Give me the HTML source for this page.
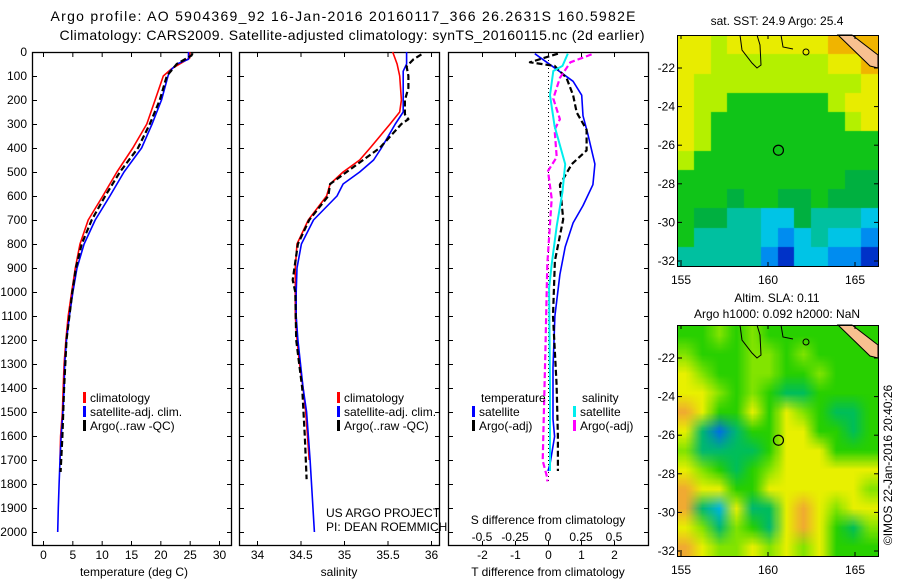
<!DOCTYPE html>
<html><head><meta charset="utf-8">
<style>
html,body{margin:0;padding:0;background:#fff;}
#wrap{position:relative;width:900px;height:580px;overflow:hidden;}
canvas{position:absolute;}
svg{position:absolute;left:0;top:0;}
text{font-family:"Liberation Sans",sans-serif;font-size:12px;fill:#000;}
</style></head>
<body>
<div id="wrap">
<canvas id="sstMap" width="201" height="231" style="left:677px;top:35px"></canvas>
<canvas id="slaMap" width="201" height="231" style="left:677px;top:325px"></canvas>
<svg id="fig" width="900" height="580" xmlns="http://www.w3.org/2000/svg">
<text x="343" y="21" text-anchor="middle" style="font-size:14px" textLength="585">Argo profile: AO 5904369_92 16-Jan-2016 20160117_366 26.2631S 160.5982E</text>
<text x="352" y="40" text-anchor="middle" style="font-size:14px" textLength="585">Climatology: CARS2009. Satellite-adjusted climatology: synTS_20160115.nc (2d earlier)</text>
<g id="g1"></g>
<g id="g2"></g>
<g id="g3"></g>
<g id="gm"></g>
<text transform="translate(892,465) rotate(-90)" text-anchor="middle">©IMOS 22-Jan-2016 20:40:26</text>
</svg>
</div>
<script>
// ---- profile data ----
const tClimDepth=[0,25,70,100,200,300,400,500,600,700,800,900,1000,1100,1200,1300,1400,1500,1600,1700];
const tClim=[25.0,25.0,21.9,20.5,19.1,17.7,15.3,12.6,10.2,7.7,6.3,5.5,4.9,4.3,3.9,3.6,3.45,3.3,3.0,2.9];
const tSatDepth=[0,30,50,80,100,200,300,400,500,600,700,800,900,1000,1100,1200,1300,1400,1500,1600,1700,1800,1900,2000];
const tSat=[24.8,24.8,22.8,21.6,21.3,20.2,18.6,16.8,13.8,11.4,8.9,7.0,5.8,5.1,4.5,4.0,3.7,3.6,3.4,3.1,2.9,2.75,2.6,2.5];
const tArgoDepth=[5,15,50,100,200,300,400,500,600,700,800,900,1000,1200,1400,1600,1750];
const tArgo=[25.5,25.3,22.8,21.1,19.9,18.2,16.2,13.1,10.6,8.3,6.6,5.6,5.0,4.0,3.6,3.3,3.0];
const sClimDepth=[0,50,100,200,250,300,400,450,500,550,600,700,800,900,1000,1100,1200,1300,1400,1500,1600,1700];
const sClim=[35.56,35.61,35.64,35.66,35.64,35.53,35.30,35.18,34.99,34.84,34.80,34.59,34.46,34.44,34.44,34.44,34.46,34.49,34.53,34.56,34.58,34.60];
const sSatDepth=[0,50,80,100,250,300,400,450,500,550,600,700,800,900,1000,1100,1200,1300,1400,1500,1700,2000];
const sSat=[35.72,35.72,35.68,35.68,35.68,35.59,35.43,35.34,35.18,34.99,34.92,34.65,34.51,34.46,34.45,34.45,34.47,34.50,34.53,34.57,34.61,34.66];
const sArgoDepth=[10,30,60,100,150,200,260,280,300,320,400,450,500,550,600,700,800,900,950,1000,1200,1400,1600,1780];
const sArgo=[35.89,35.80,35.72,35.74,35.74,35.70,35.70,35.74,35.66,35.61,35.41,35.22,35.03,34.84,34.82,34.60,34.47,34.43,34.41,34.44,34.45,34.52,34.55,34.57];
const dTSatDepth=[7,72,122,180,266,338,467,553,640,712,812,927,1100,1315,1530,1602,1717,1746];
const dTSat=[-0.4,0.26,0.76,1.02,1.06,1.2,1.42,1.36,1.06,0.76,0.52,0.36,0.21,0.15,0.15,0.2,0.06,0];
const dTArgoDepth=[7,43,58,108,180,252,324,410,467,553,697,870,1100,1387,1602,1746];
const dTArgo=[0.3,-0.55,0.2,0.56,0.76,0.87,1.17,1.17,0.72,0.36,0.46,0.21,0.15,0.26,0.3,0.3];
const dSSatDepth=[7,58,79,180,309,467,582,726,884,985,1387,1746];
const dSSat=[0.15,0.11,0.04,0.015,0.05,0.13,0.11,0.066,0.028,0.008,0.015,0.015];
const dSArgoDepth=[10,43,108,194,280,324,438,496,611,884,1243,1703,1775,1789];
const dSArgo=[0.33,0.17,0.09,0.04,0.09,0.05,0.066,0,0.028,-0.005,-0.02,-0.04,-0.005,-0.005];
const depthTicks=[0,100,200,300,400,500,600,700,800,900,1000,1100,1200,1300,1400,1500,1600,1700,1800,1900,2000];
const tempTicks=[0,5,10,15,20,25,30];
const salTicks=[34,34.5,35,35.5,36];
const salTickLabels=["34","34.5","35","35.5","36"];
const dTTicks=[-2,-1,0,1,2];
const dSTicks=[-0.5,-0.25,0,0.25,0.5];
const dSTickLabels=["-0.5","-0.25","0","0.25","0.5"];
const latTicks=[-22,-24,-26,-28,-30,-32];
const lonTicks=[155,160,165];

const NS="http://www.w3.org/2000/svg";
function mk(parent,tag,attrs,txt){const e=document.createElementNS(NS,tag);for(const k in attrs)e.setAttribute(k,attrs[k]);if(txt!==undefined)e.textContent=txt;parent.appendChild(e);return e;}
const Y0=52,Y1=545;
const yD=d=>Y0+d*0.24;
const xT=t=>43+t*5.867;
const xS=s=>257+(s-34)*87;
const xdT=v=>548+33*v;
const xdS=v=>548+132*v;

function panel(g,x0,x1,name){
  const r=mk(g,'rect',{x:x0+0.5,y:Y0+0.5,width:x1-x0,height:Y1-Y0,fill:'none',stroke:'#000','stroke-width':1.3});
  
  depthTicks.forEach(d=>{const y=yD(d)+0.5;
    const a=mk(g,'line',{x1:x0,x2:x0+5,y1:y,y2:y,stroke:'#000'});
    const b=mk(g,'line',{x1:x1-4,x2:x1+1,y1:y,y2:y,stroke:'#000'});});
}
function series(g,depths,vals,xf,color,dash,w,name){
  const pts=depths.map((d,i)=>xf(vals[i]).toFixed(1)+','+yD(d).toFixed(1)).join(' ');
  const p=mk(g,'polyline',{points:pts,fill:'none',stroke:color,'stroke-width':w,'stroke-dasharray':dash||'none','stroke-linejoin':'round'});
  
}
function xticks(g,ticks,labels,xf,ly){
  ticks.forEach((t,i)=>{const x=xf(t)+0.5;
    const a=mk(g,'line',{x1:x,x2:x,y1:Y1-4,y2:Y1+1,stroke:'#000'});
    const b=mk(g,'line',{x1:x,x2:x,y1:Y0,y2:Y0+5,stroke:'#000'});
    const l=mk(g,'text',{x:x,y:ly,'text-anchor':'middle'},labels[i]);});
}
function legend(g,x,y,color,label){
  const b=mk(g,'rect',{x:x,y:y-10,width:3,height:11,fill:color});
  const t=mk(g,'text',{x:x+7,y:y},label);
}
// panel 1
const g1=document.getElementById('g1');
panel(g1,32,231,'temperature-panel');
depthTicks.forEach(d=>{const t=mk(g1,'text',{x:27,y:yD(d)+4,'text-anchor':'end'},String(d));});
xticks(g1,tempTicks,tempTicks.map(String),xT,559);
{const t=mk(g1,'text',{x:134,y:576,'text-anchor':'middle'},'temperature (deg C)');}
series(g1,tClimDepth,tClim,xT,'#f00',null,1.6,'temp-climatology-line');
series(g1,tSatDepth,tSat,xT,'#00f',null,1.6,'temp-satellite-line');
series(g1,tArgoDepth,tArgo,xT,'#000','6 3',2.2,'temp-argo-line');
legend(g1,83,402,'#f00','climatology');legend(g1,83,416,'#00f','satellite-adj. clim.');legend(g1,83,430,'#000','Argo(..raw -QC)');
// panel 2
const g2=document.getElementById('g2');
panel(g2,239,439,'salinity-panel');
xticks(g2,salTicks,salTickLabels,xS,559);
{const t=mk(g2,'text',{x:339,y:576,'text-anchor':'middle'},'salinity');}
series(g2,sClimDepth,sClim,xS,'#f00',null,1.6,'sal-climatology-line');
series(g2,sSatDepth,sSat,xS,'#00f',null,1.6,'sal-satellite-line');
series(g2,sArgoDepth,sArgo,xS,'#000','6 3',2.2,'sal-argo-line');
legend(g2,337,402,'#f00','climatology');legend(g2,337,416,'#00f','satellite-adj. clim.');legend(g2,337,430,'#000','Argo(..raw -QC)');
{const t=mk(g2,'text',{x:326,y:517},'US ARGO PROJECT');
 const u=mk(g2,'text',{x:326,y:531},'PI: DEAN ROEMMICH');}
// panel 3
const g3=document.getElementById('g3');
panel(g3,448,648,'difference-panel');
{const z=mk(g3,'line',{x1:548.5,x2:548.5,y1:Y0,y2:yD(1795),stroke:'#000','stroke-dasharray':'1 3'});}
xticks(g3,dTTicks,dTTicks.map(String),xdT,559);
dSTicks.forEach((t,i)=>{const l=mk(g3,'text',{x:xdS(t),y:541,'text-anchor':'middle'},dSTickLabels[i]);});
{const t=mk(g3,'text',{x:548,y:524,'text-anchor':'middle'},'S difference from climatology');
 const u=mk(g3,'text',{x:548,y:576,'text-anchor':'middle'},'T difference from climatology');}
series(g3,dTSatDepth,dTSat,xdT,'#00f',null,1.6,'dt-satellite-line');
series(g3,dTArgoDepth,dTArgo,xdT,'#000','6 3',2.2,'dt-argo-line');
series(g3,dSArgoDepth,dSArgo,xdS,'#f0f','6 3',2.2,'ds-argo-line');
series(g3,dSSatDepth,dSSat,xdS,'#0ee',null,2,'ds-satellite-line');
{const t=mk(g3,'text',{x:481,y:402},'temperature');
 const u=mk(g3,'text',{x:582,y:402},'salinity');}
legend(g3,472,416,'#00f','satellite');legend(g3,472,430,'#000','Argo(-adj)');
legend(g3,573,416,'#0ee','satellite');legend(g3,573,430,'#f0f','Argo(-adj)');

// ---- maps ----
const pal={Y:[232,236,0],L:[180,240,0],G:[16,196,24],D:[0,176,64],T:[0,192,160],C:[0,196,230],B:[0,140,240],N:[0,50,200],O:[240,180,0],P:[240,176,60]};
const sstGrid=["YYLYYYYYYOOO","YYLLLLLLLYYO","YLLLLLLLLLLY","YLLGGGGGGLYY","YLGGGGGGGGLY","YLGGGGGGGGGG","LGGGGGGGGGGG","GGGGGGGGGGDD","GGGDGGDDGDDD","GDDTTCCDTTTC","GTTTTCBCTCCB","TTTTTBNCCBBN"];
const slaPal={G:[40,208,0],L:[130,228,0],Y:[232,240,0],O:[240,170,50],T:[0,184,112],C:[0,180,224],B:[0,110,230],D:[0,190,90]};
const slaGrid=["GGLGLGGGGGGG","LGGGLLGLGGGG","YLGGLLGGLGGG","YYLGLGDDGGGG","OYGGYGYLGDDG","YTBTGGYYGGDG","LTTDDGYYYGGG","YLGDGLYYYYYY","OYYGGYYYYYYL","OTCYTDYOYLYY","YLTLGTYOYGDL","OYLLYLYLYGGG"];
function drawMap(id,grid,p,smooth){
  const big=document.getElementById(id),ctx=big.getContext('2d');
  const sm=document.createElement('canvas');sm.width=12;sm.height=12;const sc=sm.getContext('2d');
  const im=sc.createImageData(12,12);
  grid.forEach((row,r)=>[...row].forEach((ch,c)=>{const k=(r*12+c)*4,col=p[ch];im.data[k]=col[0];im.data[k+1]=col[1];im.data[k+2]=col[2];im.data[k+3]=255;}));
  sc.putImageData(im,0,0);
  ctx.imageSmoothingEnabled=smooth;ctx.drawImage(sm,0,0,201,231);
}
drawMap('sstMap',sstGrid,pal,false);
drawMap('slaMap',slaGrid,slaPal,true);
const gm=document.getElementById('gm');
function mapOverlay(top,title1,title2,name){
  const lx=lon=>681+(lon-155)*17.4, ly=lat=>top+33+(-22-lat)*19.3;
  mk(gm,'polygon',{points:`838,${top} 852,${top} 878,${top+20} 878,${top+33} 870,${top+31}`,fill:'#f8c090',stroke:'#000','stroke-width':1});
  mk(gm,'path',{d:`M740,${top} L742,${top+15} L752,${top+28} L757,${top+33} L761,${top+30} L760,${top+10} L757,${top}`,fill:'none',stroke:'#000'});
  mk(gm,'path',{d:`M781,${top} L783,${top+12} L793,${top+14}`,fill:'none',stroke:'#000'});
  mk(gm,'circle',{cx:806,cy:top+17,r:3,fill:'none',stroke:'#000'});
  const c=mk(gm,'circle',{cx:lx(160.6),cy:ly(-26.26),r:5,fill:'none',stroke:'#000','stroke-width':1.2});
  
  const r=mk(gm,'rect',{x:677.5,y:top+0.5,width:201,height:231,fill:'none',stroke:'#000'});
  
  latTicks.forEach(lat=>{const y=ly(lat);
    mk(gm,'line',{x1:678,x2:682,y1:y,y2:y,stroke:'#000'});mk(gm,'line',{x1:874,x2:878,y1:y,y2:y,stroke:'#000'});
    const t=mk(gm,'text',{x:675,y:y+4,'text-anchor':'end'},String(lat));});
  lonTicks.forEach(lon=>{const x=lx(lon);
    mk(gm,'line',{x1:x,x2:x,y1:top+227,y2:top+231,stroke:'#000'});mk(gm,'line',{x1:x,x2:x,y1:top,y2:top+4,stroke:'#000'});
    const t=mk(gm,'text',{x:x,y:top+249,'text-anchor':'middle'},String(lon));});
  const t1=mk(gm,'text',{x:777,y:title2?top-23:top-10,'text-anchor':'middle'},title1);
  if(title2){const t2=mk(gm,'text',{x:777,y:top-7,'text-anchor':'middle'},title2);}
}
mapOverlay(35,'sat. SST: 24.9 Argo: 25.4',null,'sst-map');
mapOverlay(325,'Altim. SLA: 0.11','Argo h1000: 0.092 h2000: NaN','sla-map');
</script>
</body></html>
